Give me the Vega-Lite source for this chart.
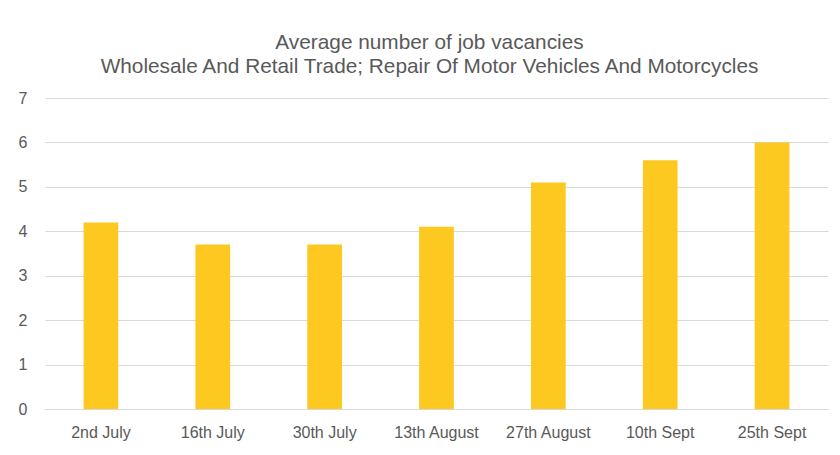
{
  "$schema": "https://vega.github.io/schema/vega-lite/v6.json",
  "autosize": {"type": "none"},
  "width": 783,
  "height": 311,
  "padding": {"left": 45, "top": 98, "right": 12, "bottom": 46},
  "background": "white",
  "title": {
    "text": ["Average number  of job vacancies", "Wholesale And  Retail Trade; Repair Of Motor Vehicles And  Motorcycles"],
    "font": "Liberation Sans",
    "fontSize": 20.8,
    "fontWeight": "normal",
    "color": "#595959",
    "anchor": "middle",
    "frame": "group",
    "dx": -7,
    "offset": 12,
    "lineHeight": 24
  },
  "data": {
    "values": [
      {"date": "2nd July", "value": 4.2},
      {"date": "16th July", "value": 3.7},
      {"date": "30th July", "value": 3.7},
      {"date": "13th August", "value": 4.1},
      {"date": "27th August", "value": 5.1},
      {"date": "10th Sept", "value": 5.6},
      {"date": "25th Sept", "value": 6.0}
    ]
  },
  "mark": {"type": "bar", "color": "#FDC81F"},
  "encoding": {
    "x": {
      "field": "date",
      "type": "nominal",
      "sort": null,
      "scale": {"paddingInner": 0.69, "paddingOuter": 0.345},
      "axis": {
        "title": null,
        "labelAngle": 0,
        "ticks": false,
        "domainColor": "#D9D9D9",
        "domainWidth": 1,
        "labelPadding": 15,
        "labelFont": "Liberation Sans",
        "labelFontSize": 16,
        "labelColor": "#595959"
      }
    },
    "y": {
      "field": "value",
      "type": "quantitative",
      "scale": {"domain": [0, 7]},
      "axis": {
        "title": null,
        "values": [0, 1, 2, 3, 4, 5, 6, 7],
        "ticks": false,
        "domain": false,
        "gridColor": "#D9D9D9",
        "gridWidth": 1,
        "labelPadding": 18,
        "labelFont": "Liberation Sans",
        "labelFontSize": 16,
        "labelColor": "#595959"
      }
    }
  },
  "config": {"view": {"stroke": null}}
}
